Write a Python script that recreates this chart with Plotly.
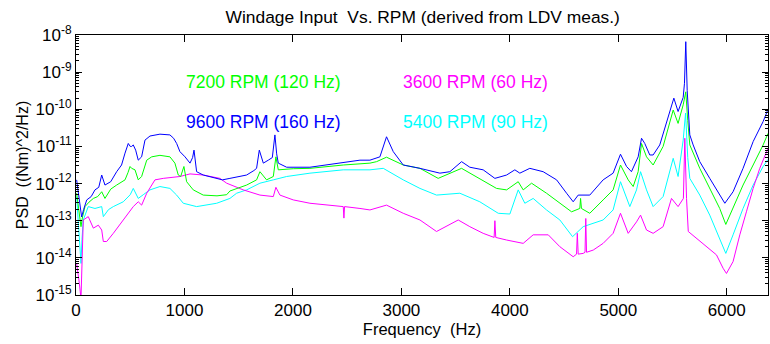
import numpy as np
import plotly.graph_objects as go

# ---------------- data (log10 of PSD) ----------------
freq_9600 = [6, 30, 52, 70, 99, 140, 175, 210, 237, 267, 320, 375, 420, 452, 482, 500, 513, 528, 550, 574,
             605, 636, 682, 774, 866, 900, 928, 958, 1005, 1051, 1075, 1088, 1100, 1112, 1173, 1297, 1350,
             1419, 1500, 1573, 1640, 1665, 1690, 1710, 1727, 1773, 1810, 1834, 1850, 1865, 1942, 2157, 2310,
             2464, 2618, 2710, 2771, 2802, 2863, 2925, 3017, 3171, 3355, 3447, 3555, 3631, 3754, 3862, 3970,
             4046, 4092, 4184, 4307, 4431, 4523, 4584, 4630, 4737, 4860, 4952, 5020, 5076, 5121, 5183, 5214,
             5244, 5290, 5321, 5382, 5444, 5512, 5551, 5598, 5610, 5622, 5635, 5659, 5690, 5751, 5843, 5920,
             5982, 6058, 6150, 6243, 6335, 6380]
lpsd_9600 = [-11.9, -12.5, -12.9, -12.7, -12.44, -12.35, -12.17, -12.1, -11.77, -12.04, -11.95, -11.68, -11.5,
             -11.18, -10.92, -11.0, -11.0, -10.96, -11.1, -11.37, -11.28, -10.83, -10.72, -10.67, -10.69,
             -10.78, -10.92, -11.14, -11.28, -11.45, -11.3, -11.10, -11.4, -11.68, -11.77, -11.86, -11.9,
             -11.86, -11.82, -11.77, -11.65, -11.59, -11.1, -11.3, -11.45, -11.37, -11.3, -10.69, -11.2,
             -11.45, -11.56, -11.56, -11.5, -11.45, -11.37, -11.37, -11.32, -11.28, -10.74, -11.14, -11.5,
             -11.59, -11.72, -11.68, -11.41, -11.56, -11.63, -11.86, -11.77, -11.63, -11.72, -11.59, -11.68,
             -11.9, -12.26, -12.49, -12.31, -12.31, -11.9, -11.72, -11.21, -11.54, -11.68, -11.28, -10.78,
             -10.92, -11.23, -11.23, -10.96, -10.38, -9.7, -10.06, -9.68, -9.3, -8.18, -9.5, -10.69, -10.96,
             -11.41, -11.86, -12.22, -12.53, -12.22, -11.59, -10.87, -10.33, -10.0]

freq_7200 = [6, 25, 46, 60, 83, 120, 160, 200, 237, 267, 320, 375, 452, 480, 498, 513, 544, 574, 605, 652,
             698, 774, 866, 912, 943, 965, 995, 1020, 1081, 1173, 1300, 1389, 1419, 1573, 1665, 1696, 1757,
             1819, 1843, 1865, 2003, 2157, 2464, 2710, 2771, 2863, 3017, 3171, 3339, 3555, 3723, 3877, 3970,
             4077, 4123, 4200, 4338, 4461, 4569, 4645, 4652, 4660, 4737, 4860, 4952, 5020, 5091, 5137, 5183,
             5214, 5260, 5321, 5413, 5506, 5551, 5598, 5622, 5640, 5659, 5751, 5843, 5935, 5991, 6058, 6150,
             6243, 6335, 6380]
lpsd_7200 = [-12.26, -12.7, -13.16, -12.9, -12.62, -12.5, -12.4, -12.35, -12.22, -12.4, -12.15, -12.04, -11.9,
             -11.7, -11.54, -11.59, -11.63, -11.9, -11.81, -11.37, -11.28, -11.24, -11.28, -11.45, -11.77,
             -11.81, -11.54, -11.95, -12.17, -12.31, -12.33, -12.3, -12.2, -12.04, -11.9, -11.68, -11.9,
             -11.81, -11.28, -11.63, -11.6, -11.59, -11.5, -11.45, -11.41, -11.29, -11.5, -11.59, -11.86,
             -11.59, -11.86, -12.13, -12.17, -11.95, -12.17, -11.99, -12.26, -12.53, -12.76, -12.67, -12.4,
             -12.67, -12.8, -12.44, -12.17, -11.5, -11.9, -12.08, -11.68, -10.92, -11.28, -11.5, -11.0,
             -10.02, -10.38, -9.88, -9.53, -10.3, -10.96, -11.59, -12.13, -12.67, -13.1, -12.67, -12.04,
             -11.5, -10.96, -10.65]

freq_3600 = [6, 20, 31, 46, 55, 67, 113, 160, 206, 237, 252, 283, 344, 436, 528, 574, 605, 652, 728, 805, 958,
             1051, 1173, 1327, 1389, 1542, 1696, 1819, 1843, 1880, 2003, 2157, 2310, 2464, 2470, 2476, 2618,
             2710, 2863, 3017, 3171, 3324, 3524, 3631, 3754, 3855, 3862, 3870, 3970, 4123, 4215, 4354, 4461,
             4584, 4615, 4622, 4630, 4676, 4693, 4700, 4707, 4769, 4860, 4952, 5020, 5091, 5168, 5205, 5260,
             5321, 5413, 5490, 5551, 5600, 5613, 5629, 5645, 5720, 5813, 5905, 5966, 5997, 6058, 6120, 6181,
             6243, 6304, 6380]
lpsd_3600 = [-14.15, -14.4, -14.69, -15.1, -14.0, -12.98, -12.89, -13.2, -13.12, -13.25, -13.56, -13.56,
             -13.34, -12.98, -12.62, -12.49, -12.58, -12.26, -11.9, -11.86, -11.81, -11.74, -11.77, -11.86,
             -11.99, -12.17, -12.31, -12.35, -12.1, -12.31, -12.44, -12.53, -12.58, -12.62, -12.93, -12.62,
             -12.67, -12.71, -12.58, -12.8, -12.98, -13.29, -12.98, -13.16, -13.34, -13.45, -13.0, -13.45,
             -13.52, -13.61, -13.38, -13.38, -13.7, -13.97, -13.9, -13.34, -13.9, -13.88, -13.85, -12.94,
             -13.85, -13.79, -13.61, -13.34, -12.8, -13.34, -13.03, -12.85, -13.25, -13.34, -13.16, -12.4,
             -12.62, -12.4, -10.78, -12.4, -13.29, -13.47, -13.7, -13.92, -14.28, -14.42, -14.1, -13.38,
             -12.76, -12.13, -11.59, -11.05]

freq_5400 = [6, 20, 31, 46, 55, 67, 113, 175, 237, 252, 300, 344, 436, 500, 528, 574, 620, 682, 774, 866, 928,
             989, 1112, 1297, 1419, 1481, 1573, 1696, 1819, 1942, 2157, 2464, 2710, 2833, 3017, 3171, 3324,
             3539, 3723, 3893, 4000, 4077, 4138, 4215, 4338, 4461, 4578, 4676, 4860, 4952, 5020, 5106, 5168,
             5205, 5260, 5321, 5413, 5506, 5551, 5598, 5620, 5640, 5659, 5751, 5843, 5935, 5991, 6058, 6150,
             6243, 6335, 6380]
lpsd_5400 = [-12.35, -12.9, -13.43, -14.15, -13.5, -12.98, -12.62, -12.67, -12.62, -12.89, -12.7, -12.62,
             -12.49, -12.3, -12.13, -12.4, -12.3, -12.17, -12.08, -12.13, -12.31, -12.53, -12.62, -12.53,
             -12.4, -12.26, -12.17, -11.99, -11.9, -11.81, -11.72, -11.63, -11.63, -11.59, -11.9, -12.13,
             -12.31, -12.26, -12.49, -12.8, -12.82, -12.17, -12.53, -12.4, -12.71, -12.98, -13.43, -13.16,
             -12.98, -12.71, -11.95, -12.62, -12.17, -11.68, -12.17, -12.62, -12.35, -11.32, -11.81, -10.83,
             -10.1, -11.3, -11.86, -12.31, -12.85, -13.47, -13.88, -13.38, -12.67, -12.04, -11.54, -11.35]

x_ticks = [0, 1000, 2000, 3000, 4000, 5000, 6000]
y_exponents = [-15, -14, -13, -12, -11, -10, -9, -8]

series = [
    ("5400 RPM (90 Hz)", freq_5400, lpsd_5400, "#00ffff"),
    ("3600 RPM (60 Hz)", freq_3600, lpsd_3600, "#ff00ff"),
    ("7200 RPM (120 Hz)", freq_7200, lpsd_7200, "#00ff00"),
    ("9600 RPM (160 Hz)", freq_9600, lpsd_9600, "#0000ff"),
]

fig = go.Figure()
for name, f, lp, col in series:
    fig.add_trace(go.Scatter(x=f, y=np.power(10.0, np.array(lp)), mode="lines", name=name,
                             line=dict(color=col, width=1), showlegend=False))

FONT = "Liberation Sans, Arial, sans-serif"

minor_vals = [m * 10.0 ** e for e in y_exponents[:-1] for m in range(2, 10)]

fig.update_layout(
    width=770, height=344,
    margin=dict(l=76, r=2, t=35, b=49),
    paper_bgcolor="white", plot_bgcolor="white",
    font=dict(family=FONT, color="black"),
    title=dict(text="Windage Input  Vs. RPM (derived from LDV meas.)",
               x=0.549, xanchor="center", y=1 - 17 / 344, yanchor="middle", yref="container",
               font=dict(size=17.4, family=FONT, color="black")),
)

fig.update_xaxes(
    range=[0, 6380], tickvals=x_ticks, ticktext=[str(v) for v in x_ticks],
    ticks="inside", ticklen=7, tickcolor="black", tickwidth=1,
    showline=True, linecolor="black", linewidth=1, mirror="ticks",
    showgrid=False, zeroline=False,
    tickfont=dict(size=17, family=FONT),
    title=dict(text="Frequency  (Hz)", font=dict(size=16.5, family=FONT), standoff=4),
)

fig.update_yaxes(
    type="log", range=[-15, -8],
    tickvals=[10.0 ** e for e in y_exponents],
    ticktext=["10<sup>%d</sup>" % e for e in y_exponents],
    ticks="inside", ticklen=6, tickcolor="black", tickwidth=1,
    minor=dict(tickvals=minor_vals, ticks="inside", ticklen=3, tickcolor="black", showgrid=False),
    showline=True, linecolor="black", linewidth=1, mirror="ticks",
    showgrid=False, zeroline=False,
    tickfont=dict(size=17, family=FONT),
    title=dict(text="PSD  ((Nm)^2/Hz)", font=dict(size=16, family=FONT), standoff=2),
)

labels = [
    ("7200 RPM (120 Hz)", 184, 82, "#00ff00"),
    ("3600 RPM (60 Hz)", 401, 82, "#ff00ff"),
    ("9600 RPM (160 Hz)", 184, 122, "#0000ff"),
    ("5400 RPM (90 Hz)", 401, 122, "#00ffff"),
]
for txt, px, py, col in labels:
    fig.add_annotation(text=txt, xref="paper", yref="paper",
                       x=(px - 76) / 692, y=1 - (py - 35) / 260,
                       xanchor="left", yanchor="middle", showarrow=False,
                       font=dict(size=17.5, color=col, family=FONT))

fig.write_html("out.html")
